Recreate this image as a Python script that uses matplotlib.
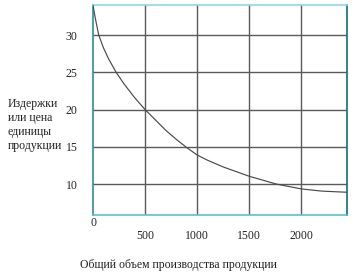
import matplotlib
matplotlib.use("Agg")
import matplotlib.pyplot as plt

# Data
volume = [0, 15, 30, 55, 100, 150, 222, 300, 400, 500, 600, 700, 800, 900, 1000, 1100,
          1250, 1500, 1760, 2000, 2200, 2440]
cost = [34.0, 32.8, 31.7, 30.0, 28.3, 26.8, 25.0, 23.4, 21.6, 20.0, 18.6, 17.2, 16.0, 14.9, 13.9, 13.2,
        12.3, 11.05, 10.0, 9.35, 9.05, 8.9]

x_ticks = [500, 1000, 1500, 2000]
y_ticks = [10, 15, 20, 25, 30]
x_label = "Общий объем производства продукции"
y_label = "Издержки\nили цена\nединицы\nпродукции"

W, H = 354, 276
fig = plt.figure(figsize=(W / 100, H / 100), dpi=100)
fig.patch.set_facecolor("white")
left, right, top, bottom = 93, 347, 4.5, 214.6
ax = fig.add_axes([left / W, 1 - bottom / H, (right - left) / W, (bottom - top) / H])

font = "Liberation Serif"
fs = 8.5

ax.plot(volume, cost, color="#4a4a4a", lw=0.85, zorder=3)
ax.set_xlim(0, 2440)
ax.set_ylim(5.9, 34.1)

ax.set_xticks(x_ticks)
ax.set_yticks(y_ticks)
ax.set_xticklabels([str(v) for v in x_ticks], fontfamily=font, fontsize=fs, color="#222222")
ax.set_yticklabels([str(v) for v in y_ticks], fontfamily=font, fontsize=fs, color="#222222")
ax.tick_params(axis="x", length=0, pad=11)
ax.tick_params(axis="y", length=0, pad=11)
ax.grid(True, color="#5a5a5a", lw=1.0)

ax.spines["left"].set_color("#2f8f9a")
ax.spines["bottom"].set_color("#5ac0cc")
ax.spines["top"].set_color("#8fd8e0")
ax.spines["right"].set_color("#0f6e78")
for s in ax.spines.values():
    s.set_linewidth(1.2)

fig.text(93 / W, 1 - 223 / H, "0", ha="center", va="center", fontfamily=font, fontsize=fs, color="#222222")
fig.text(8 / W, 1 - 125 / H, y_label, ha="left", va="center", fontfamily=font, fontsize=fs,
         color="#222222", linespacing=1.25)
fig.text(178 / W, 1 - 265 / H, x_label, ha="center", va="center", fontfamily=font, fontsize=fs, color="#222222")

fig.savefig("out.png", dpi=100, facecolor="white")
